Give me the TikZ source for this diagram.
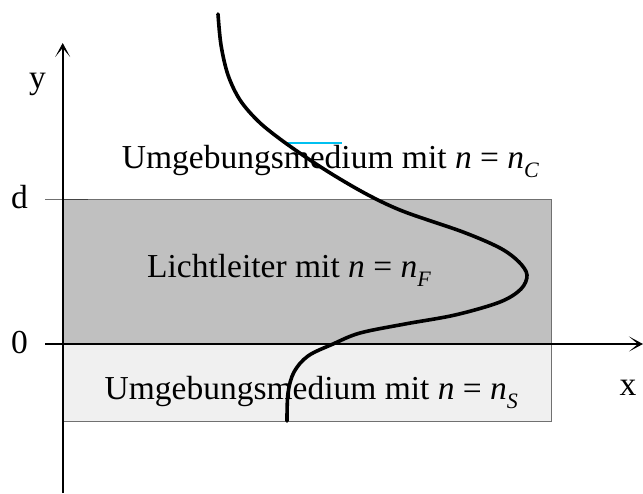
\documentclass[tikz,border=0pt]{standalone}
\usepackage{fontspec}
\setmainfont{Liberation Serif}
\usetikzlibrary{arrows.meta}
\definecolor{coregray}{HTML}{C0C0C0}
\definecolor{subgray}{HTML}{F0F0F0}
\definecolor{edgegray}{HTML}{707070}
\definecolor{markblue}{HTML}{00C0F0}
\newcommand\subsc[1]{\raisebox{-0.27em}{\fontsize{22}{22}\selectfont\itshape #1}}
\begin{document}
\begin{tikzpicture}[x=1pt,y=-1pt,
  lbl/.style={inner sep=0pt, font=\fontsize{33.5}{40}\selectfont},
  axisline/.style={line width=1.6pt, -{Stealth[length=14pt,width=15pt,inset=9pt]}},
  edge/.style={draw=edgegray, line width=0.8pt},
  wave/.style={line width=3.6pt, line cap=round}]
\useasboundingbox (0,0) rectangle (643,493);
% layers
\filldraw[edge, fill=coregray] (62.7,199) rectangle (551.7,344);
\filldraw[edge, fill=subgray] (62.7,344) rectangle (551.7,421);
% d tick
\coordinate (dl) at (45,199);
\coordinate (dr) at (62.7,199);
\coordinate (dk) at (88,199);
\draw[edge] (dl) -- (dr);
\draw[draw=edgegray!60!black, line width=0.9pt] (dr) -- (dk);
% axes
\coordinate (yb) at (62.7,493);
\coordinate (yt) at (62.7,43);
\coordinate (xl) at (45,344);
\coordinate (xr) at (643,344);
\draw[axisline] (yb) -- (yt);
\draw[axisline, line width=1.3pt] (xl) -- (xr);
% labels
\node[lbl, anchor=base] (ylab) at (37.5,88) {y};
\node[lbl, anchor=base] (dlab) at (19.5,208) {d};
\node[lbl, anchor=base] (olab) at (19.5,353) {0};
\node[lbl, anchor=base] (xlab) at (628,395) {x};
% texts
\node[lbl, anchor=base west] (tc) at (121.7,168) {Umgebungsmedium mit \textit{n} = \textit{n}\subsc{C}};
\node[lbl, anchor=base west] (tf) at (147,277) {Lichtleiter mit \textit{n} = \textit{n}\subsc{F}};
\node[lbl, anchor=base west] (ts) at (104.5,399) {Umgebungsmedium mit \textit{n} = \textit{n}\subsc{S}};
% cyan mark
\coordinate (ml) at (287,142.5);
\coordinate (mr) at (342,142.5);
\draw[markblue, line width=2pt] (ml) -- (mr);
% mode profile
\draw[wave] plot[smooth, tension=0.55] coordinates {
 (218,14) (221,45) (228,75) (240,100) (258,121) (280,139) (310,160)
 (340,179) (372,197) (405,212) (463,232) (500,248) (519,262) (527,275)
 (521,289) (500,302) (455,315) (405,324) (360,333) (333,344)
 (308,356) (294,372) (288,393) (287,421)};
\end{tikzpicture}
\end{document}
